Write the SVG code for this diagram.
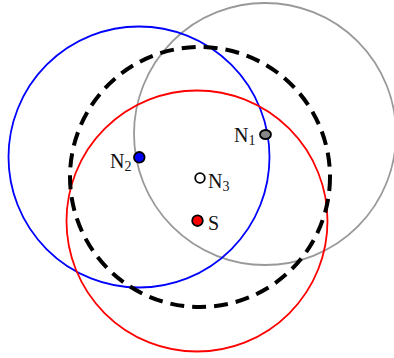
<svg xmlns="http://www.w3.org/2000/svg" width="394" height="358" viewBox="0 0 394 358">
<style>
.c{fill:none;stroke-width:1.8}
.lbl{font-family:"Liberation Serif","Times New Roman",serif;font-size:20px;fill:#111}
.sub{font-size:14px}
.dot{stroke:#000;stroke-width:1.8}
</style>
<rect width="394" height="358" fill="#fff"/>
<g id="connectors">
<circle class="c" cx="265" cy="134" r="131" stroke="#999"/>
<circle class="c" cx="139" cy="157" r="130.5" stroke="#0000ff"/>
<circle class="c" cx="197" cy="221" r="130.5" stroke="#ff0000"/>
<circle cx="200" cy="177" r="130" fill="none" stroke="#000" stroke-width="4" stroke-dasharray="14 8"/>
</g>
<g id="N1">
<ellipse class="dot" cx="265.5" cy="134.5" rx="5.5" ry="4.5" fill="#888"/>
<text class="lbl" x="234" y="141.5">N<tspan class="sub" dy="3">1</tspan></text>
</g>
<g id="N2">
<circle class="dot" cx="139.3" cy="157.3" r="5.3" fill="#0000ff"/>
<text class="lbl" x="110" y="168">N<tspan class="sub" dy="2.5">2</tspan></text>
</g>
<g id="N3">
<circle class="dot" cx="200" cy="178" r="4.8" fill="#fff"/>
<text class="lbl" x="208" y="188">N<tspan class="sub" dy="3">3</tspan></text>
</g>
<g id="S">
<circle class="dot" cx="197.5" cy="220.7" r="5.3" fill="#ff0000"/>
<text class="lbl" x="208" y="230">S</text>
</g>
</svg>
